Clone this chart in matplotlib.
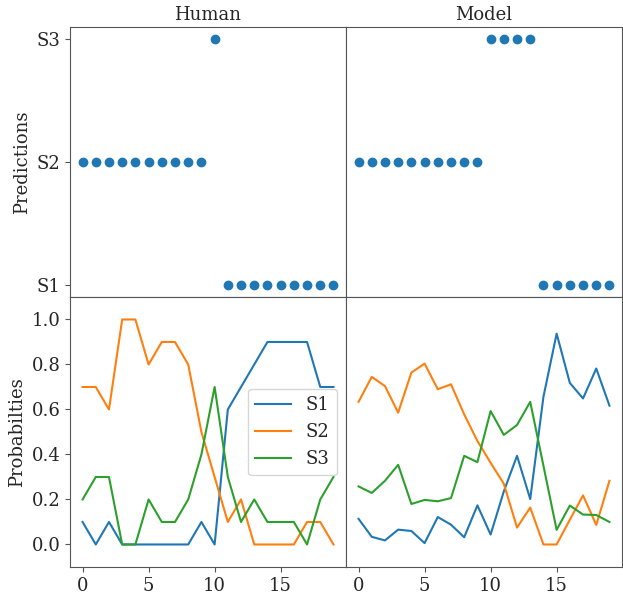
import matplotlib
matplotlib.use("Agg")
import matplotlib.pyplot as plt
import numpy as np

steps = list(range(20))
classes = ["S1", "S2", "S3"]
panel_titles = ["Human", "Model"]

human_pred = [2, 2, 2, 2, 2, 2, 2, 2, 2, 2, 3, 1, 1, 1, 1, 1, 1, 1, 1, 1]
model_pred = [2, 2, 2, 2, 2, 2, 2, 2, 2, 2, 3, 3, 3, 3, 1, 1, 1, 1, 1, 1]

human_s1 = [0.1, 0.0, 0.1, 0.0, 0.0, 0.0, 0.0, 0.0, 0.0, 0.1, 0.0, 0.6, 0.7, 0.8, 0.9, 0.9, 0.9, 0.9, 0.7, 0.7]
human_s2 = [0.7, 0.7, 0.6, 1.0, 1.0, 0.8, 0.9, 0.9, 0.8, 0.5, 0.3, 0.1, 0.2, 0.0, 0.0, 0.0, 0.0, 0.1, 0.1, 0.0]
human_s3 = [0.2, 0.3, 0.3, 0.0, 0.0, 0.2, 0.1, 0.1, 0.2, 0.4, 0.7, 0.3, 0.1, 0.2, 0.1, 0.1, 0.1, 0.0, 0.2, 0.3]

model_s1 = [0.114, 0.034, 0.018, 0.066, 0.060, 0.006, 0.122, 0.088, 0.032, 0.174, 0.044, 0.236, 0.394, 0.202, 0.656, 0.937, 0.718, 0.649, 0.782, 0.617]
model_s2 = [0.634, 0.745, 0.704, 0.586, 0.764, 0.804, 0.690, 0.712, 0.578, 0.460, 0.363, 0.270, 0.075, 0.164, 0.000, 0.000, 0.110, 0.218, 0.087, 0.283]
model_s3 = [0.258, 0.229, 0.283, 0.354, 0.180, 0.198, 0.192, 0.206, 0.394, 0.366, 0.593, 0.487, 0.531, 0.634, 0.350, 0.065, 0.173, 0.133, 0.131, 0.100]

plt.rcParams["font.family"] = ["DejaVu Serif"]
plt.rcParams["font.size"] = 13
plt.rcParams["axes.edgecolor"] = "#555555"
plt.rcParams["xtick.color"] = "#555555"
plt.rcParams["ytick.color"] = "#555555"
plt.rcParams["xtick.labelcolor"] = "#262626"
plt.rcParams["ytick.labelcolor"] = "#262626"
plt.rcParams["text.color"] = "#262626"
plt.rcParams["axes.labelcolor"] = "#262626"

fig, axes = plt.subplots(2, 2, figsize=(6.23, 5.96), dpi=100, sharex=True)
fig.subplots_adjust(left=0.1124, right=0.9984, top=0.9547, bottom=0.0487, wspace=0, hspace=0)

preds = [human_pred, model_pred]
probs = [[human_s1, human_s2, human_s3], [model_s1, model_s2, model_s3]]

for j in range(2):
    ax = axes[0, j]
    ax.scatter(steps, preds[j], s=36, color="#1f77b4")
    ax.set_ylim(0.9, 3.1)
    ax.set_yticks([1, 2, 3])
    ax.set_title(panel_titles[j], fontsize=13, pad=5)
    if j == 0:
        ax.set_yticklabels(classes)
        ax.set_ylabel("Predictions")
    else:
        ax.set_yticklabels([])
        ax.tick_params(axis="y", left=False)
    ax.tick_params(axis="x", bottom=False)

    ax = axes[1, j]
    for k, name in enumerate(classes):
        ax.plot(steps, probs[j][k], label=name, linewidth=1.5)
    ax.set_ylim(-0.1, 1.1)
    ax.set_yticks([0.0, 0.2, 0.4, 0.6, 0.8, 1.0])
    ax.set_xticks([0, 5, 10, 15])
    if j == 0:
        ax.set_ylabel("Probabilties")
        ax.legend(loc="center right", fontsize=13)
    else:
        ax.set_yticklabels([])
        ax.tick_params(axis="y", left=False)

axes[1, 0].set_xlim(-0.95, 19.95)

fig.savefig("out.png", dpi=100)
